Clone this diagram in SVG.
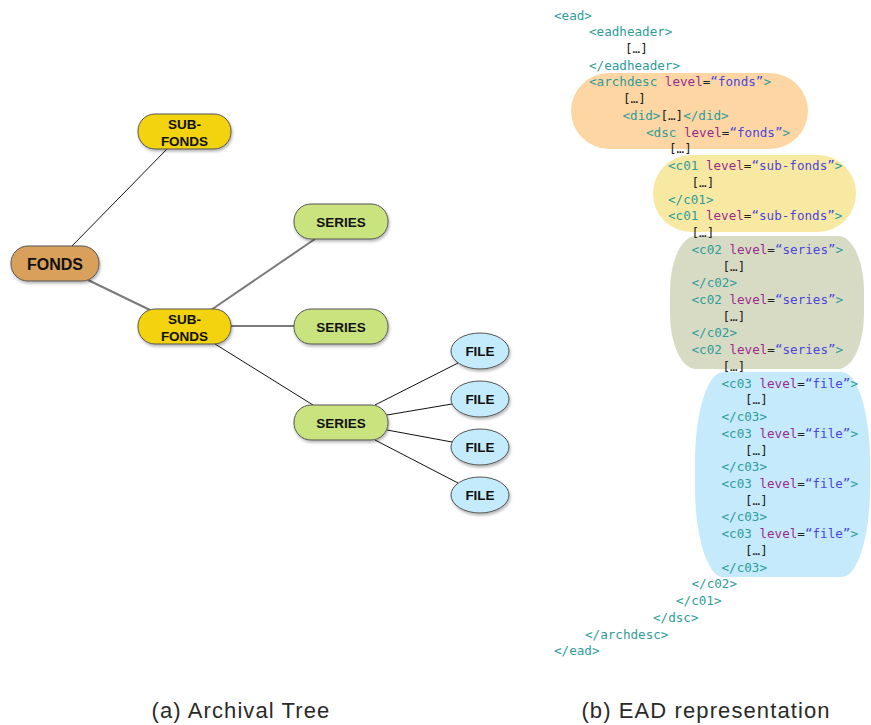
<svg xmlns="http://www.w3.org/2000/svg" width="871" height="725" viewBox="0 0 871 725">
<defs>
<filter id="sh" x="-20%" y="-20%" width="140%" height="160%">
<feDropShadow dx="1" dy="2" stdDeviation="1.5" flood-color="#000" flood-opacity="0.3"/>
</filter>
</defs>
<style>
.nt{font-family:"Liberation Sans",Arial,sans-serif;font-weight:bold;font-size:13.5px;fill:#111;text-anchor:middle}
.ns{stroke:#555;stroke-width:1;filter:url(#sh)}
.gl{stroke:#7a7a7a;stroke-width:2;fill:none}
.bl{stroke:#111;stroke-width:1;fill:none}
.code{font-family:"DejaVu Sans Mono","Liberation Mono",monospace;font-size:12.6px}
.t{fill:#2f9c9a}
.a{fill:#9a2a8e}
.e{fill:#222}
.v{fill:#4b45dc}
.b{fill:#222}
.cap{font-family:"Liberation Sans",Arial,sans-serif;font-size:22px;letter-spacing:1.1px;fill:#2a2a2a;text-anchor:middle}
</style>
<rect width="871" height="725" fill="#fff"/>

<g id="connectors">
<line class="bl" x1="72" y1="246" x2="167" y2="149"/>
<line class="gl" x1="88" y1="280" x2="150" y2="310"/>
<line class="gl" x1="211" y1="310" x2="315" y2="239"/>
<line class="gl" x1="231" y1="326" x2="294" y2="326"/>
<line class="bl" x1="215" y1="344" x2="313" y2="405"/>
<line class="bl" x1="375" y1="405" x2="458" y2="363"/>
<line class="bl" x1="387" y1="415" x2="452" y2="404"/>
<line class="bl" x1="387" y1="430" x2="452" y2="442"/>
<line class="bl" x1="375" y1="440" x2="458" y2="483"/>
</g>

<g id="fonds">
<rect class="ns" x="11" y="246" width="88" height="35" rx="17" fill="#d9a05c"/>
<text class="nt" x="55" y="269.5" style="font-size:16px">FONDS</text>
</g>
<g id="subfonds1">
<rect class="ns" x="138" y="114" width="93" height="35" rx="17" fill="#f2d30f"/>
<text class="nt" x="184.5" y="129">SUB-</text>
<text class="nt" x="184.5" y="146">FONDS</text>
</g>
<g id="subfonds2">
<rect class="ns" x="138" y="309" width="93" height="35" rx="17" fill="#f2d30f"/>
<text class="nt" x="184.5" y="324">SUB-</text>
<text class="nt" x="184.5" y="341">FONDS</text>
</g>
<g id="series1">
<rect class="ns" x="294" y="204" width="94" height="35" rx="17" fill="#c9e37f"/>
<text class="nt" x="341" y="227">SERIES</text>
</g>
<g id="series2">
<rect class="ns" x="294" y="309" width="94" height="35" rx="17" fill="#c9e37f"/>
<text class="nt" x="341" y="331.5">SERIES</text>
</g>
<g id="series3">
<rect class="ns" x="294" y="405" width="94" height="35" rx="17" fill="#c9e37f"/>
<text class="nt" x="341" y="427.5">SERIES</text>
</g>
<g id="file1">
<ellipse class="ns" cx="480" cy="351" rx="29" ry="18" fill="#c4ebfb"/>
<text class="nt" x="480" y="356">FILE</text>
</g>
<g id="file2">
<ellipse class="ns" cx="480" cy="399" rx="29" ry="18" fill="#c4ebfb"/>
<text class="nt" x="480" y="404">FILE</text>
</g>
<g id="file3">
<ellipse class="ns" cx="480" cy="447" rx="29" ry="18" fill="#c4ebfb"/>
<text class="nt" x="480" y="452">FILE</text>
</g>
<g id="file4">
<ellipse class="ns" cx="480" cy="495" rx="29" ry="18" fill="#c4ebfb"/>
<text class="nt" x="480" y="500">FILE</text>
</g>

<g id="ead-backgrounds">
<rect x="571" y="73" width="237" height="76" rx="38" ry="38" fill="#fdd6a3"/>
<rect x="653" y="155" width="203" height="77" rx="38" ry="38" fill="#f8e9a2"/>
<rect x="670" y="236" width="194" height="133" rx="26" ry="55" fill="#d7dbc4"/>
<rect x="695" y="372" width="175" height="205" rx="28" ry="90" fill="#c4eafc"/>
</g>

<g id="ead-code" class="code">
<text x="554" y="19.5"><tspan class="t">&lt;ead&gt;</tspan></text>
<text x="589" y="36.2"><tspan class="t">&lt;eadheader&gt;</tspan></text>
<text x="625" y="53"><tspan class="b">[…]</tspan></text>
<text x="589" y="69.7"><tspan class="t">&lt;/eadheader&gt;</tspan></text>
<text x="589" y="86.4"><tspan class="t">&lt;archdesc </tspan><tspan class="a">level</tspan><tspan class="e">=</tspan><tspan class="v">“fonds”</tspan><tspan class="t">&gt;</tspan></text>
<text x="623" y="103.2"><tspan class="b">[…]</tspan></text>
<text x="622.5" y="119.9"><tspan class="t">&lt;did&gt;</tspan><tspan class="b">[…]</tspan><tspan class="t">&lt;/did&gt;</tspan></text>
<text x="646" y="136.6"><tspan class="t">&lt;dsc </tspan><tspan class="a">level</tspan><tspan class="e">=</tspan><tspan class="v">“fonds”</tspan><tspan class="t">&gt;</tspan></text>
<text x="669" y="153.3"><tspan class="b">[…]</tspan></text>
<text x="668" y="170.1"><tspan class="t">&lt;c01 </tspan><tspan class="a">level</tspan><tspan class="e">=</tspan><tspan class="v">“sub-fonds”</tspan><tspan class="t">&gt;</tspan></text>
<text x="691.5" y="186.8"><tspan class="b">[…]</tspan></text>
<text x="668" y="203.5"><tspan class="t">&lt;/c01&gt;</tspan></text>
<text x="668" y="220.3"><tspan class="t">&lt;c01 </tspan><tspan class="a">level</tspan><tspan class="e">=</tspan><tspan class="v">“sub-fonds”</tspan><tspan class="t">&gt;</tspan></text>
<text x="691.5" y="237"><tspan class="b">[…]</tspan></text>
<text x="691.5" y="253.7"><tspan class="t">&lt;c02 </tspan><tspan class="a">level</tspan><tspan class="e">=</tspan><tspan class="v">“series”</tspan><tspan class="t">&gt;</tspan></text>
<text x="722.5" y="270.5"><tspan class="b">[…]</tspan></text>
<text x="691.5" y="287.2"><tspan class="t">&lt;/c02&gt;</tspan></text>
<text x="691.5" y="303.9"><tspan class="t">&lt;c02 </tspan><tspan class="a">level</tspan><tspan class="e">=</tspan><tspan class="v">“series”</tspan><tspan class="t">&gt;</tspan></text>
<text x="722.5" y="320.6"><tspan class="b">[…]</tspan></text>
<text x="691.5" y="337.4"><tspan class="t">&lt;/c02&gt;</tspan></text>
<text x="691.5" y="354.1"><tspan class="t">&lt;c02 </tspan><tspan class="a">level</tspan><tspan class="e">=</tspan><tspan class="v">“series”</tspan><tspan class="t">&gt;</tspan></text>
<text x="722.5" y="370.8"><tspan class="b">[…]</tspan></text>
<text x="721.5" y="387.6"><tspan class="t">&lt;c03 </tspan><tspan class="a">level</tspan><tspan class="e">=</tspan><tspan class="v">“file”</tspan><tspan class="t">&gt;</tspan></text>
<text x="745" y="404.3"><tspan class="b">[…]</tspan></text>
<text x="721.5" y="421"><tspan class="t">&lt;/c03&gt;</tspan></text>
<text x="721.5" y="437.8"><tspan class="t">&lt;c03 </tspan><tspan class="a">level</tspan><tspan class="e">=</tspan><tspan class="v">“file”</tspan><tspan class="t">&gt;</tspan></text>
<text x="745" y="454.5"><tspan class="b">[…]</tspan></text>
<text x="721.5" y="471.2"><tspan class="t">&lt;/c03&gt;</tspan></text>
<text x="721.5" y="487.9"><tspan class="t">&lt;c03 </tspan><tspan class="a">level</tspan><tspan class="e">=</tspan><tspan class="v">“file”</tspan><tspan class="t">&gt;</tspan></text>
<text x="745" y="504.7"><tspan class="b">[…]</tspan></text>
<text x="721.5" y="521.4"><tspan class="t">&lt;/c03&gt;</tspan></text>
<text x="721.5" y="538.1"><tspan class="t">&lt;c03 </tspan><tspan class="a">level</tspan><tspan class="e">=</tspan><tspan class="v">“file”</tspan><tspan class="t">&gt;</tspan></text>
<text x="745" y="554.9"><tspan class="b">[…]</tspan></text>
<text x="721.5" y="571.6"><tspan class="t">&lt;/c03&gt;</tspan></text>
<text x="691.5" y="588.3"><tspan class="t">&lt;/c02&gt;</tspan></text>
<text x="676" y="605.1"><tspan class="t">&lt;/c01&gt;</tspan></text>
<text x="653" y="621.8"><tspan class="t">&lt;/dsc&gt;</tspan></text>
<text x="585" y="638.5"><tspan class="t">&lt;/archdesc&gt;</tspan></text>
<text x="554" y="655.2"><tspan class="t">&lt;/ead&gt;</tspan></text>
</g>

<g id="captions">
<text class="cap" x="241" y="718">(a) Archival Tree</text>
<text class="cap" x="706" y="718">(b) EAD representation</text>
</g>
</svg>
